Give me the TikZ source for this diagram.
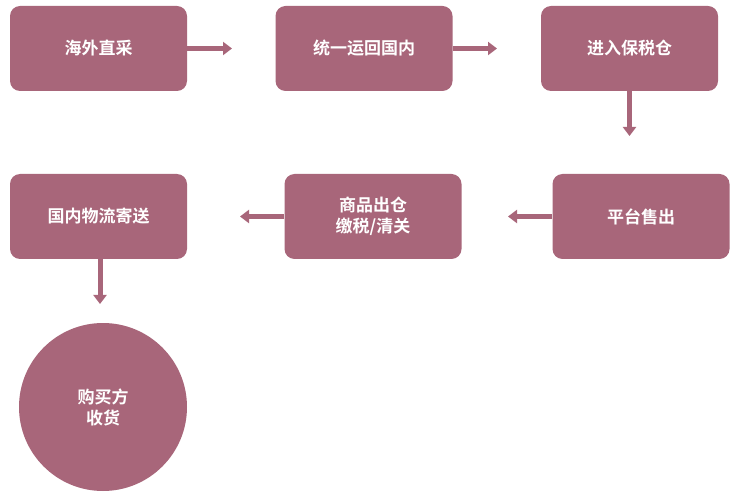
\documentclass[tikz,border=0pt]{standalone}
\usepackage{fontspec}
\setmainfont{Noto Sans CJK SC Bold}
\usetikzlibrary{arrows.meta}
\definecolor{mauve}{HTML}{A8667A}
\begin{document}
\begin{tikzpicture}[x=1pt,y=-1pt,
  box/.style={fill=mauve,rounded corners=10pt,minimum width=177pt,minimum height=85pt,text=white,font=\fontsize{17}{21}\selectfont,align=center,inner sep=0pt},
  arr/.style={draw=mauve,line width=5pt,-{Triangle[length=9pt,width=13pt]}}]
\useasboundingbox (0,0) rectangle (736,494);
\node[box] (a) at (98.5,48.5) {海外直采};
\node[box] (b) at (364,48.5) {统一运回国内};
\node[box] (c) at (629.5,48.5) {进入保税仓};
\node[box] (d) at (641,216.5) {平台售出};
\node[box] (e) at (373,216.5) {商品出仓\\缴税/清关};
\node[box] (f) at (98.5,216.5) {国内物流寄送};
\node[circle,fill=mauve,minimum size=168pt,text=white,font=\fontsize{17}{21}\selectfont,align=center,inner sep=0pt] (g) at (103,407) {购买方\\收货};
\coordinate (a1) at (232,48.5);
\coordinate (b1) at (497,48.5);
\coordinate (c1) at (629.5,136);
\coordinate (d1) at (508,216.5);
\coordinate (e1) at (240,216.5);
\coordinate (f1) at (100,304);
\draw[arr] (a.east) -- (a1);
\draw[arr] (b.east) -- (b1);
\draw[arr] (c.south) -- (c1);
\draw[arr] (d.west) -- (d1);
\draw[arr] (e.west) -- (e1);
\draw[arr] (f.south -| f1) -- (f1);
\end{tikzpicture}
\end{document}
